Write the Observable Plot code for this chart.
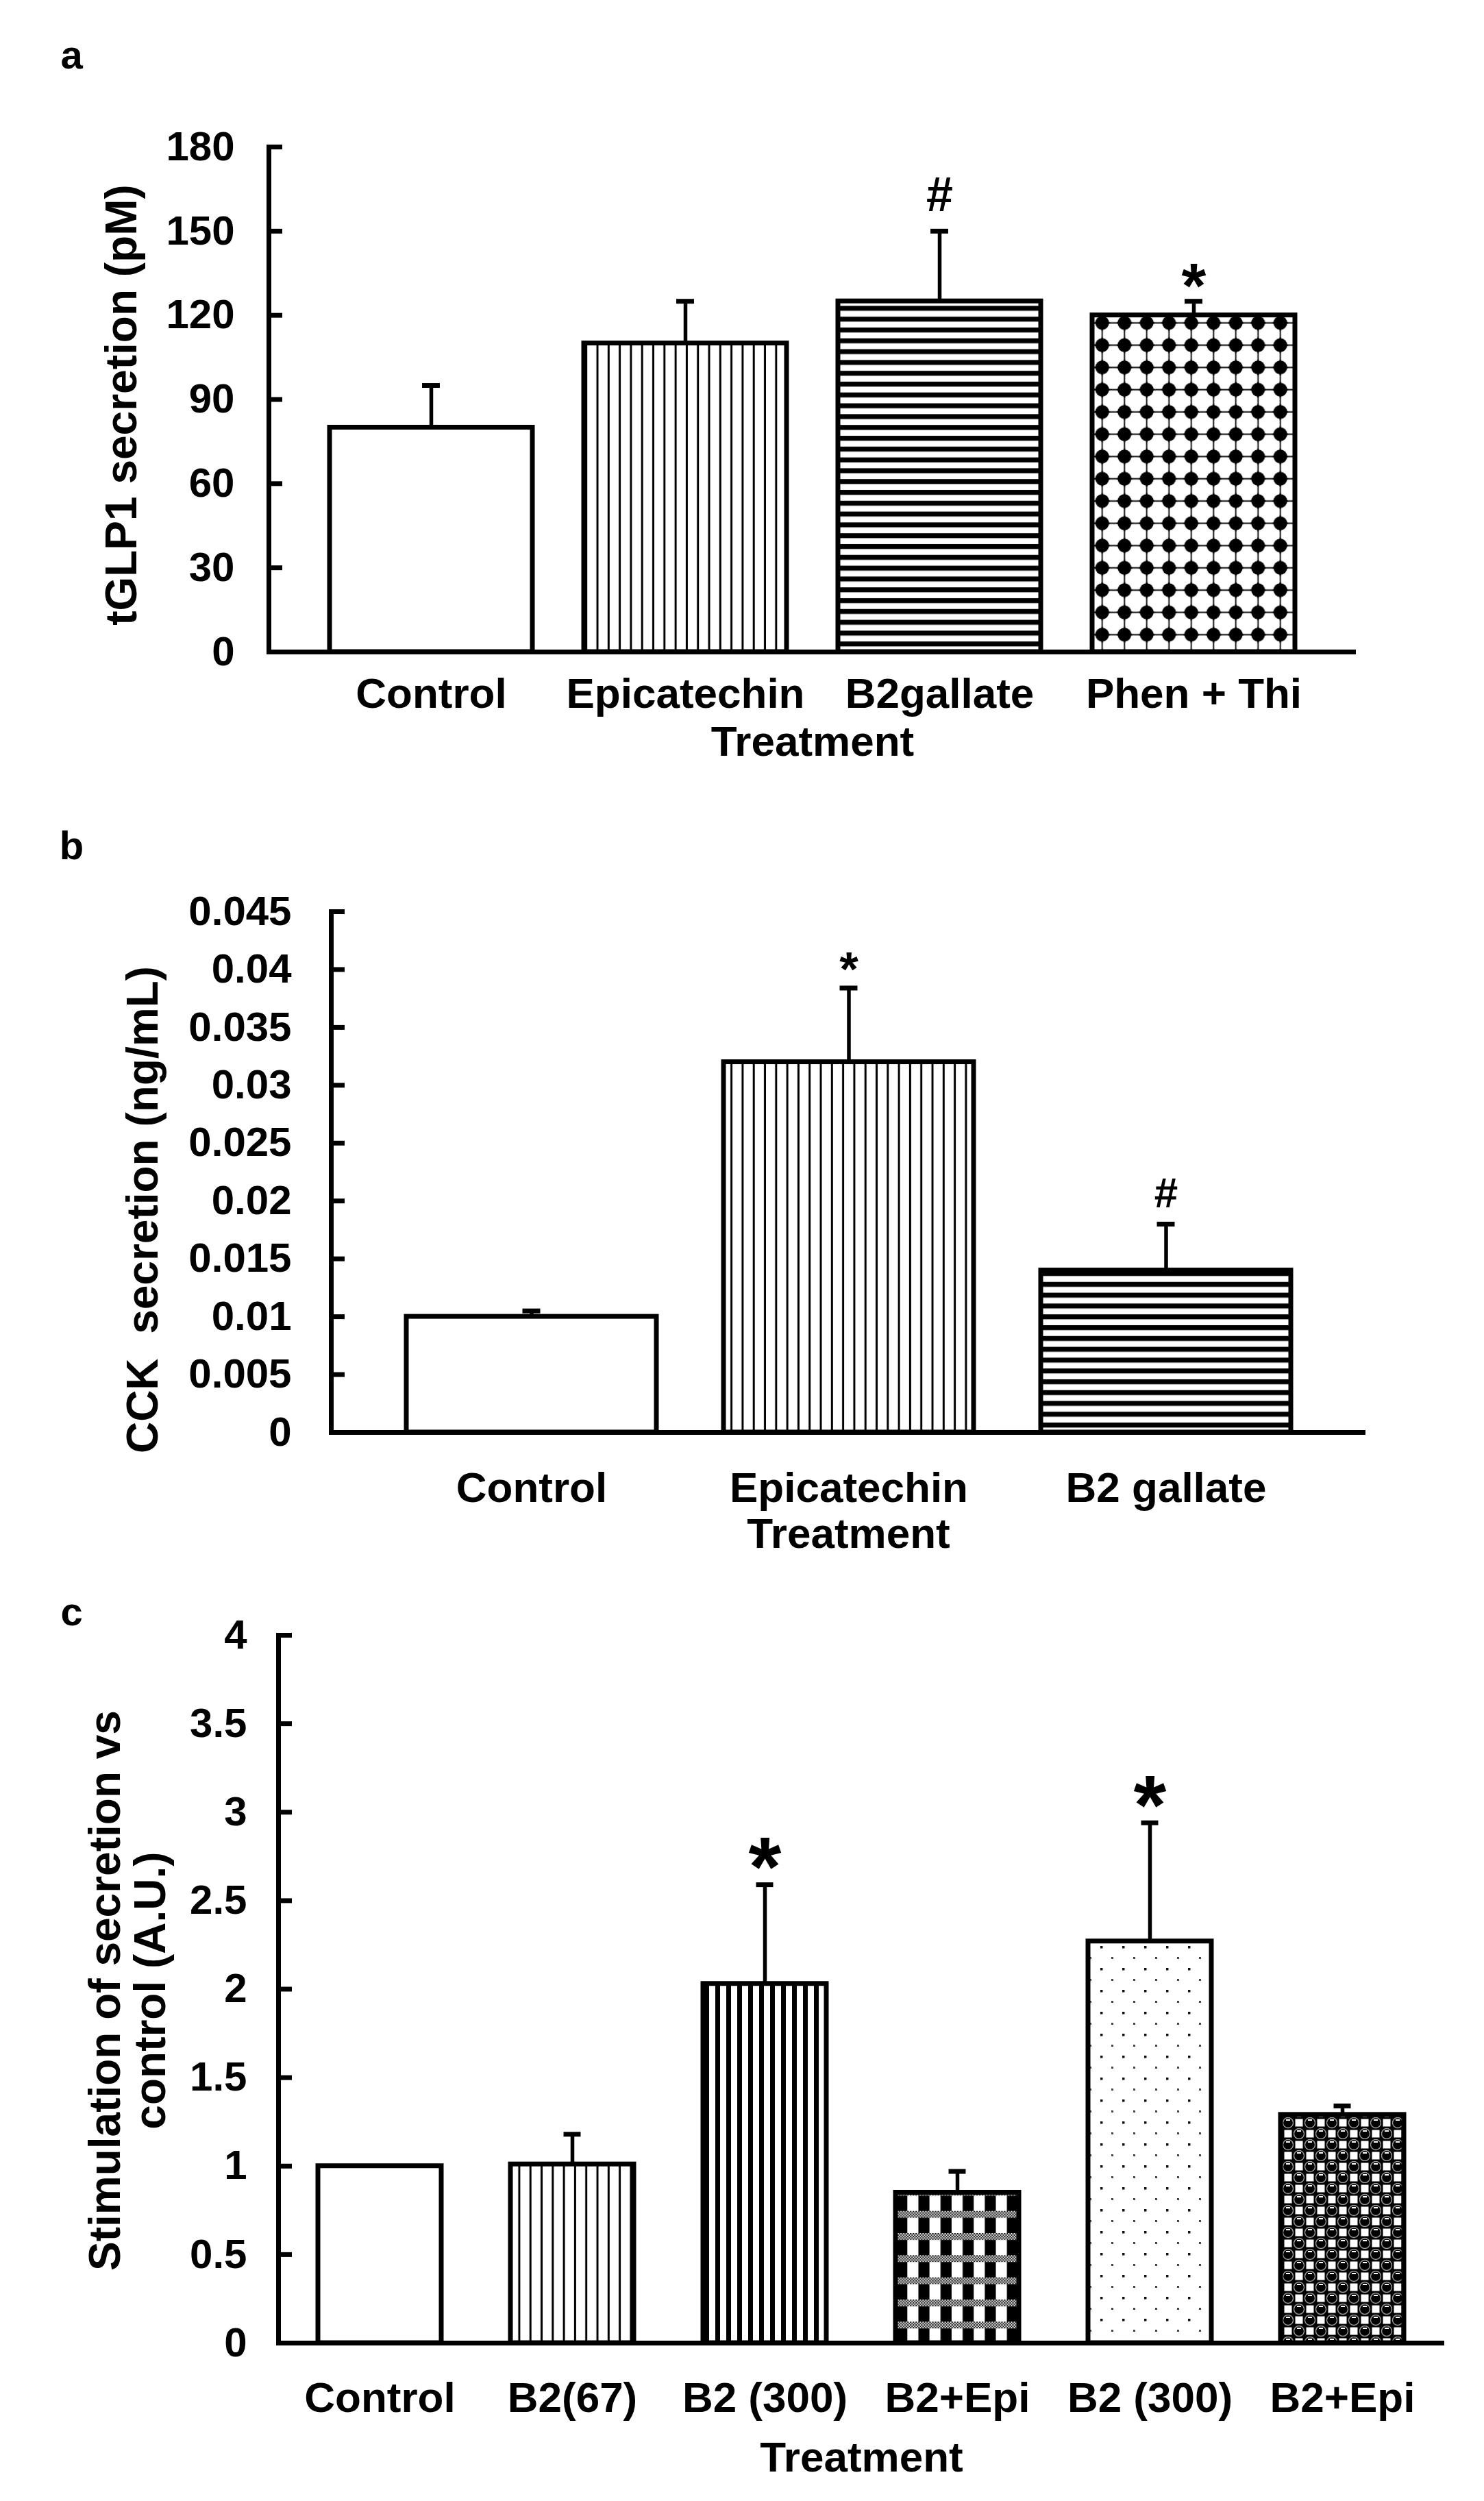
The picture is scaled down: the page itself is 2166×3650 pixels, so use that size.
<!DOCTYPE html>
<html><head><meta charset="utf-8">
<script src="https://cdn.jsdelivr.net/npm/d3@7"></script>
<script src="https://cdn.jsdelivr.net/npm/@observablehq/plot@0.6"></script>
<style>
html,body{margin:0;padding:0;background:#fff}
body{width:2166px;height:3650px;position:relative;overflow:hidden}
.panel{position:absolute;left:0}
</style></head><body>
<div id="pa" class="panel" style="top:0px"></div>
<div id="pb" class="panel" style="top:1140px"></div>
<div id="pc" class="panel" style="top:2290px"></div>
<script>
// ---------- data ----------
const aCategories = ["Control", "Epicatechin", "B2gallate", "Phen + Thi"];
const aValues = [80, 110, 125, 120];
const aErrors = [15, 15, 25, 5];
const aSignif = ["", "", "#", "*"];
const aTicks = [0, 30, 60, 90, 120, 150, 180];
const aTickLabels = ["0", "30", "60", "90", "120", "150", "180"];

const bCategories = ["Control", "Epicatechin", "B2 gallate"];
const bValues = [0.010, 0.032, 0.014];
const bErrors = [0.0005, 0.0064, 0.004];
const bSignif = ["", "*", "#"];
const bTicks = [0, 0.005, 0.01, 0.015, 0.02, 0.025, 0.03, 0.035, 0.04, 0.045];
const bTickLabels = ["0", "0.005", "0.01", "0.015", "0.02", "0.025", "0.03", "0.035", "0.04", "0.045"];

const cCategories = ["Control", "B2(67)", "B2 (300)", "B2+Epi", "B2 (300)", "B2+Epi"];
const cValues = [1.00, 1.01, 2.03, 0.85, 2.27, 1.29];
const cErrors = [0, 0.17, 0.56, 0.12, 0.67, 0.05];
const cSignif = ["", "", "*", "", "*", ""];
const cTicks = [0, 0.5, 1, 1.5, 2, 2.5, 3, 3.5, 4];
const cTickLabels = ["0", "0.5", "1", "1.5", "2", "2.5", "3", "3.5", "4"];

// ---------- styles (fill patterns per bar) ----------
const aPatterns = ["white", "vthin", "hlines", "phen"];
const bPatterns = ["white", "vthin", "hlines"];
const cPatterns = ["white", "vthin", "vthick", "checker", "sparse", "circles"];

const FONT = "'Liberation Sans', Arial, Helvetica, sans-serif";

function patternDefs(p) {
  return `<defs>
  <pattern id="${p}-vthin" patternUnits="userSpaceOnUse" width="16.3" height="10">
    <rect width="16.3" height="10" fill="white"/><rect x="6.6" width="3" height="10" fill="black"/></pattern>
  <pattern id="${p}-vthick" patternUnits="userSpaceOnUse" width="16" height="10">
    <rect width="16" height="10" fill="white"/><rect x="4" width="7" height="10" fill="black"/></pattern>
  <pattern id="${p}-hlines" patternUnits="userSpaceOnUse" width="10" height="15.8">
    <rect width="10" height="15.8" fill="white"/><rect y="4" width="10" height="7.2" fill="black"/></pattern>
  <pattern id="${p}-phen" patternUnits="userSpaceOnUse" width="32.5" height="32.5">
    <rect width="32.5" height="32.5" fill="white"/>
    <path d="M16.25 0V32.5M0 16.25H32.5" stroke="black" stroke-width="1.8"/>
    <circle cx="16.25" cy="16.25" r="10" fill="black"/>
    <path d="M16.25 2.5L21 16.25L16.25 30L11.5 16.25Z M2.5 16.25L16.25 11.5L30 16.25L16.25 21Z" fill="black"/></pattern>
  <pattern id="${p}-dither" patternUnits="userSpaceOnUse" width="4" height="4">
    <rect width="4" height="4" fill="white"/><rect width="2" height="2" fill="black"/><rect x="2" y="2" width="2" height="2" fill="black"/></pattern>
  <pattern id="${p}-checker" patternUnits="userSpaceOnUse" width="32.3" height="32.3">
    <rect width="32.3" height="32.3" fill="white"/>
    <rect x="16.15" width="16.15" height="32.3" fill="black"/>
    <rect y="0" width="32.3" height="10" fill="url(#${p}-dither)"/></pattern>
  <pattern id="${p}-sparse" patternUnits="userSpaceOnUse" width="32" height="32">
    <rect width="32" height="32" fill="white"/>
    <rect x="6" y="6" width="3.5" height="3.5" fill="#111"/>
    <rect x="22" y="22" width="3" height="3" fill="#444"/></pattern>
  <pattern id="${p}-circles" patternUnits="userSpaceOnUse" width="32" height="32">
    <rect width="32" height="32" fill="black"/>
    <rect x="2.5" y="2.5" width="11" height="11" fill="white"/>
    <rect x="18.5" y="18.5" width="11" height="11" fill="white"/>
    <circle cx="24" cy="8" r="7.5" fill="black" stroke="#9a9a9a" stroke-width="1.4"/>
    <circle cx="8" cy="24" r="7.5" fill="black" stroke="#9a9a9a" stroke-width="1.4"/>
    <rect x="21" y="3" width="6" height="2" fill="white"/>
    <rect x="5" y="19" width="6" height="2" fill="white"/></pattern>
  </defs>`;
}

function drawPanel(cfg) {
  const n = cfg.categories.length;
  const rows = cfg.categories.map((c, i) => ({
    key: i, label: c, value: cfg.values[i], err: cfg.errors[i], sig: cfg.signif[i], pat: cfg.patterns[i]
  }));
  const withErr = rows.filter(d => d.err > 0);
  const frameW = cfg.width - cfg.ml - cfg.mr;
  const step = frameW / (n - cfg.pi + 2 * cfg.po);
  const bw = step * (1 - cfg.pi);
  const capW = 26;
  const capInset = (bw - capW) / 2;
  const fillOf = d => d.pat === "white" ? "white" : `url(#${cfg.id}-${d.pat})`;

  const marks = [
    Plot.ruleX(withErr, {x: "key", y1: "value", y2: d => d.value + d.err, stroke: "black", strokeWidth: 5.5}),
    Plot.tickY(withErr, {x: "key", y: d => d.value + d.err, stroke: "black", strokeWidth: 7, insetLeft: capInset, insetRight: capInset}),
    Plot.barY(rows, {x: "key", y: "value", fill: fillOf, stroke: "black", strokeWidth: 7}),
    Plot.ruleY([0], {stroke: "black", strokeWidth: 7}),
    Plot.frame({anchor: "left", stroke: "black", strokeWidth: 7}),
    Plot.tickY(cfg.ticks, {y: d => d, stroke: "black", strokeWidth: 7, insetRight: frameW - 20}),
    Plot.axisY(cfg.ticks, {tickSize: 0, tickPadding: cfg.yPad, tickFormat: d => cfg.tickLabels[cfg.ticks.indexOf(d)], fontSize: 60, fontWeight: "bold", label: null}),
    Plot.axisX({tickSize: 0, tickPadding: cfg.xPad, tickFormat: i => cfg.categories[i], fontSize: 62, fontWeight: "bold", label: null}),
    Plot.text(["Treatment"], {frameAnchor: "bottom", textAnchor: "middle", lineAnchor: "middle", dy: cfg.treatDy, fontSize: 62, fontWeight: "bold"}),
    Plot.text([cfg.yTitle], {frameAnchor: "left", textAnchor: "middle", lineAnchor: "middle", rotate: -90, dx: cfg.titleDx, dy: cfg.titleDy, fontSize: 64, fontWeight: "bold", lineHeight: 1.03}),
    Plot.text([cfg.letter], {frameAnchor: "top-left", textAnchor: "middle", lineAnchor: "middle", dx: cfg.letterDx, dy: cfg.letterDy, fontSize: 58, fontWeight: "bold"}),
    ...cfg.annot.map(a => Plot.text(rows.filter(d => d.sig === a.sym), {
      x: "key", y: d => d.value + d.err, text: "sig", textAnchor: "middle", lineAnchor: "middle", fontSize: a.size, fontWeight: "bold", dy: a.dy
    }))
  ];

  const svg = Plot.plot({
    width: cfg.width, height: cfg.height,
    marginTop: cfg.mt, marginBottom: cfg.mb, marginLeft: cfg.ml, marginRight: cfg.mr,
    x: {type: "band", domain: d3.range(n), paddingInner: cfg.pi, paddingOuter: cfg.po, align: 0.5},
    y: {domain: cfg.yDomain, nice: false},
    color: {type: "identity"},
    style: {fontFamily: FONT, fontWeight: "bold", fontSize: "60px", color: "black", background: "white", overflow: "visible"},
    marks
  });
  svg.insertAdjacentHTML("afterbegin", patternDefs(cfg.id));
  document.getElementById(cfg.container).appendChild(svg);
}

drawPanel({
  id: "a", container: "pa", letter: "a",
  categories: aCategories, values: aValues, errors: aErrors, signif: aSignif, patterns: aPatterns,
  ticks: aTicks, tickLabels: aTickLabels, yDomain: [0, 180],
  yTitle: "tGLP1 secretion (pM)",
  width: 2166, height: 1140, mt: 214, mb: 189, ml: 392, mr: 187, pi: 0.203, po: 0.2375,
  yPad: 50, xPad: 37, treatDy: 132, titleDx: -215, titleDy: 8, letterDx: -288, letterDy: -133,
  annot: [{sym: "#", size: 70, dy: -52}, {sym: "*", size: 92, dy: -20}]
});

drawPanel({
  id: "b", container: "pb", letter: "b",
  categories: bCategories, values: bValues, errors: bErrors, signif: bSignif, patterns: bPatterns,
  ticks: bTicks, tickLabels: bTickLabels, yDomain: [0, 0.045],
  yTitle: "CCK\u00a0 secretion (ng/mL)",
  width: 2166, height: 1150, mt: 190, mb: 200, ml: 483, mr: 173, pi: 0.2125, po: 0.235,
  yPad: 58, xPad: 57, treatDy: 149, titleDx: -275, titleDy: 55, letterDx: -379, letterDy: -95,
  annot: [{sym: "*", size: 71, dy: -26}, {sym: "#", size: 62, dy: -44}]
});

drawPanel({
  id: "c", container: "pc", letter: "c",
  categories: cCategories, values: cValues, errors: cErrors, signif: cSignif, patterns: cPatterns,
  ticks: cTicks, tickLabels: cTickLabels, yDomain: [0, 4],
  yTitle: "Stimulation of secretion vs\ncontrol (A.U.)",
  width: 2166, height: 1360, mt: 96, mb: 231, ml: 406, mr: 58, pi: 0.358, po: 0.197,
  yPad: 46, xPad: 56, treatDy: 168, titleDx: -220, titleDy: 2, letterDx: -302, letterDy: -33,
  annot: [{sym: "*", size: 123, dy: -24}]
});
</script>
</body></html>
